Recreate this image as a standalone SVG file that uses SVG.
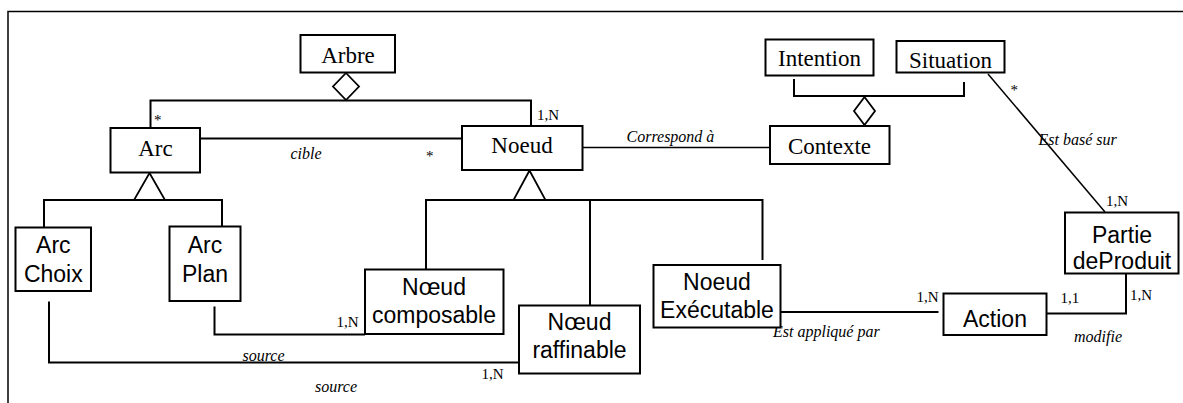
<svg xmlns="http://www.w3.org/2000/svg" width="1183" height="403" viewBox="0 0 1183 403">
<style>
.box{fill:#fff;stroke:#000;stroke-width:2}
.ln{fill:none;stroke:#000;stroke-width:2}
.thin{fill:none;stroke:#000;stroke-width:1.5}
.agg{fill:#fff;stroke:#000;stroke-width:1.8}
.serif{font-family:"Liberation Serif","Times New Roman",serif;font-size:23px;fill:#000;text-anchor:middle}
.sans{font-family:"Liberation Sans",Arial,sans-serif;font-size:23px;fill:#000;text-anchor:middle}
.lbl{font-family:"Liberation Serif","Times New Roman",serif;font-size:16px;font-style:italic;fill:#000}
.card{font-family:"Liberation Serif","Times New Roman",serif;font-size:15px;fill:#000}
</style>
<rect x="0" y="0" width="1183" height="403" fill="#fff"/>
<g id="frame">
<polyline class="thin" points="8,403 8,11.5 1183,11.5"/>
</g>
<g id="connectors">
<!-- Arbre aggregation -->
<polyline class="ln" points="150.5,127 150.5,100.5 531,100.5 531,126"/>
<polygon class="agg" points="346,73 359,86.5 346,100 333,86.5"/>
<!-- cible -->
<line class="ln" x1="200" y1="138.5" x2="462" y2="138.5"/>
<!-- Correspond a -->
<line class="thin" x1="582" y1="147.5" x2="770" y2="147.5"/>
<!-- Contexte aggregation -->
<polyline class="ln" points="794,79 794,96 964,96 964,82"/>
<polygon class="agg" points="864.5,97 875,111 864.5,125 854,111"/>
<!-- Est base sur -->
<line class="thin" x1="988" y1="74" x2="1105" y2="212"/>
<!-- Arc generalization -->
<polyline class="ln" points="44,227.5 44,200 222,200 222,226.5"/>
<polygon class="agg" points="149.5,173 165,200 134,200"/>
<!-- Noeud generalization -->
<polyline class="ln" points="426,269 426,200 762.5,200 762.5,260"/>
<line class="ln" x1="590" y1="201" x2="590" y2="306"/>
<polygon class="agg" points="529.5,170.5 545.5,200 513.5,200"/>
<!-- Arc Plan to Noeud composable -->
<polyline class="ln" points="214.5,306.5 214.5,334.5 365,334.5"/>
<!-- Arc Choix to Noeud raffinable -->
<polyline class="ln" points="49,301.5 49,362.5 519,362.5"/>
<!-- Est applique par -->
<line class="ln" x1="781" y1="312" x2="938.5" y2="312"/>
<!-- modifie -->
<polyline class="ln" points="1047,313.5 1126,313.5 1126,273"/>
</g>
<g id="labels">
<text class="card" x="154" y="125">*</text>
<text class="card" x="537" y="120">1,N</text>
<text class="card" x="426" y="161">*</text>
<text class="lbl" x="290.5" y="159">cible</text>
<text class="lbl" x="626.5" y="142">Correspond à</text>
<text class="card" x="1010.5" y="95">*</text>
<text class="lbl" x="1038.5" y="145">Est basé sur</text>
<text class="card" x="1106" y="206">1,N</text>
<text class="card" x="916.5" y="301.5">1,N</text>
<text class="card" x="1060.5" y="303">1,1</text>
<text class="card" x="1130" y="300">1,N</text>
<text class="lbl" x="1074" y="341.5">modifie</text>
<text class="lbl" x="773" y="337">Est appliqué par</text>
<text class="card" x="336.5" y="327">1,N</text>
<text class="lbl" x="242.5" y="361">source</text>
<text class="lbl" x="315" y="391.5">source</text>
<text class="card" x="481.5" y="379">1,N</text>
</g>
<g id="Arbre"><rect class="box" x="300.5" y="35" width="94.5" height="37.5"/><text class="serif" x="348" y="62.5">Arbre</text></g>
<g id="Arc"><rect class="box" x="110.5" y="128" width="89.5" height="44.5"/><text class="serif" x="155.5" y="156">Arc</text></g>
<g id="Noeud"><rect class="box" x="462" y="126" width="120.5" height="44"/><text class="serif" x="522" y="153">Noeud</text></g>
<g id="Intention"><rect class="box" x="765.5" y="39.5" width="108" height="36"/><text class="serif" x="819.5" y="65.5">Intention</text></g>
<g id="Situation"><rect class="box" x="896.5" y="41" width="108" height="31.5"/><text class="serif" x="950.5" y="68">Situation</text></g>
<g id="Contexte"><rect class="box" x="770" y="126" width="119.5" height="38"/><text class="serif" x="829.5" y="153.5">Contexte</text></g>
<g id="ArcChoix"><rect class="box" x="15.5" y="227.5" width="75.5" height="63.5"/><text class="sans" x="53.3" y="253">Arc</text><text class="sans" x="53.3" y="281.5">Choix</text></g>
<g id="ArcPlan"><rect class="box" x="169.5" y="226.5" width="71" height="74.5"/><text class="sans" x="205" y="253">Arc</text><text class="sans" x="205" y="281.5">Plan</text></g>
<g id="NoeudComposable"><rect class="box" x="365" y="269.5" width="138.5" height="64.5"/><text class="sans" x="434" y="295">Nœud</text><text class="sans" x="434" y="322.5">composable</text></g>
<g id="NoeudRaffinable"><rect class="box" x="519" y="305.5" width="121" height="68"/><text class="sans" x="579.5" y="330">Nœud</text><text class="sans" x="579.5" y="358">raffinable</text></g>
<g id="NoeudExecutable"><rect class="box" x="653.5" y="265" width="127" height="62.5"/><text class="sans" x="717" y="290">Noeud</text><text class="sans" x="717" y="318">Exécutable</text></g>
<g id="Action"><rect class="box" x="943.5" y="293.5" width="103" height="41.5"/><text class="sans" x="995" y="327">Action</text></g>
<g id="PartieDeProduit"><rect class="box" x="1065" y="212.5" width="113.5" height="61"/><text class="sans" x="1122" y="243">Partie</text><text class="sans" x="1122" y="269">deProduit</text></g>
</svg>
